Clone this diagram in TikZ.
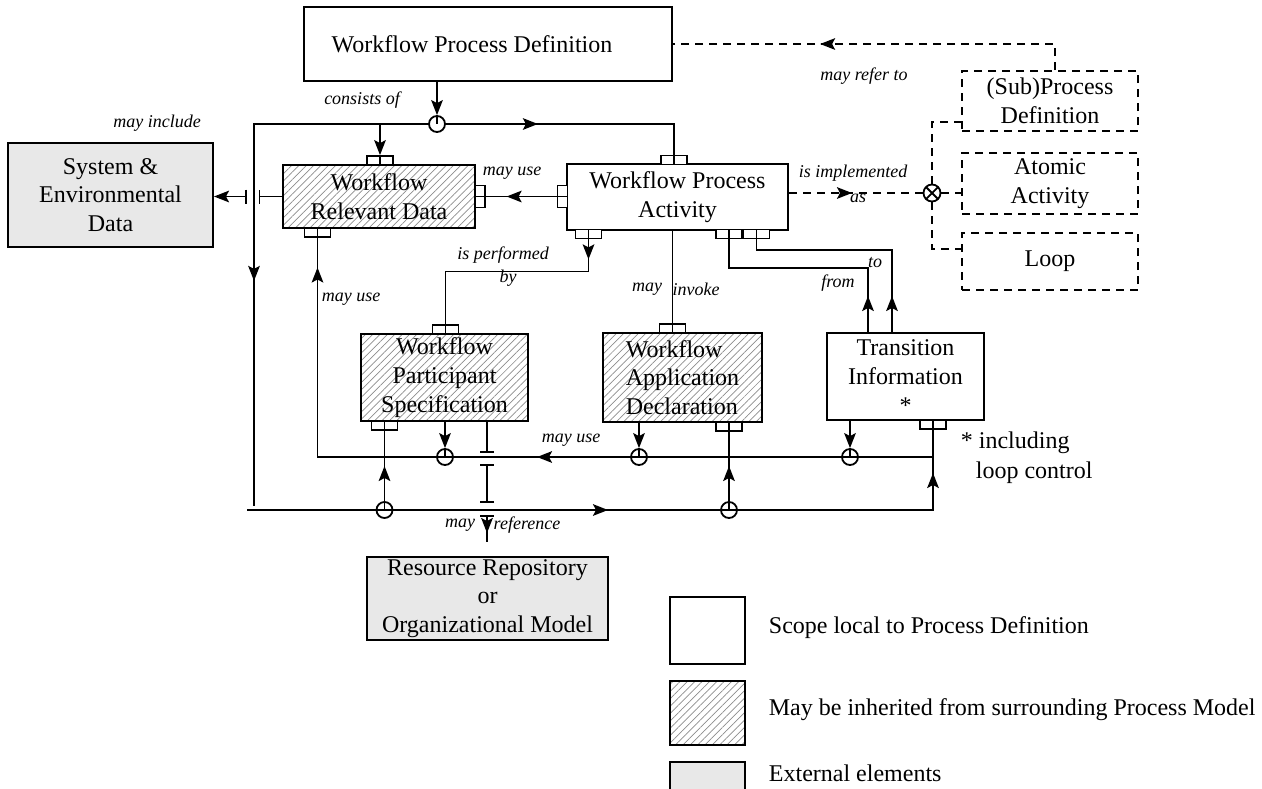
\documentclass[tikz,border=0pt]{standalone}
\usepackage{fontspec}
\setmainfont{Liberation Serif}
\usetikzlibrary{arrows.meta,patterns.meta,decorations.markings,calc}
\begin{document}
\begin{tikzpicture}[x=0.5pt,y=-0.5pt,
  line width=0.9pt,
  >={Stealth[length=7.5pt,width=5.8pt,inset=1.5pt]},
  base/.style={draw, line width=1pt, inner sep=0pt, font=\fontsize{12}{14.4}\selectfont},
  sz/.style 2 args={minimum width=#1, minimum height=#2},
  ml/.style={align=center},
  plainbox/.style={base, fill=white},
  hatchbox/.style={base, pattern={Lines[angle=45,distance=2.6pt,line width=0.35pt]}, pattern color=black!45},
  greybox/.style={base, fill=black!9},
  dashbox/.style={base, dash pattern=on 4pt off 3pt, line width=0.9pt},
  vport/.style={draw, line width=0.9pt, fill=white, minimum width=13pt, minimum height=4.5pt, inner sep=0pt,
    path picture={\draw[line width=0.9pt] (path picture bounding box.north) -- (path picture bounding box.south);}},
  hport/.style={draw, line width=0.9pt, fill=white, minimum width=5pt, minimum height=11pt, inner sep=0pt,
    path picture={\draw[line width=0.9pt] (path picture bounding box.west) -- (path picture bounding box.east);}},
  jct/.style={circle, draw, line width=0.9pt, minimum size=8pt, inner sep=0pt},
  oxs/.style={circle, draw, line width=0.9pt, fill=white, minimum size=8.5pt, inner sep=0pt,
    path picture={\draw (path picture bounding box.north west) -- (path picture bounding box.south east)
      (path picture bounding box.north east) -- (path picture bounding box.south west);}},
  lbl/.style={inner sep=0pt, font=\fontsize{9}{10.8}\selectfont\itshape},
  txt/.style={inner sep=0pt, font=\fontsize{12}{14.4}\selectfont},
  dconn/.style={dash pattern=on 4pt off 3pt},
  midarr/.style={postaction={decorate}, decoration={markings, mark=at position #1 with {\arrow{>}}}},
  arrtwo/.style 2 args={postaction={decorate}, decoration={markings,
    mark=at position #1 with {\arrow{>}}, mark=at position #2 with {\arrow{>}}}},
  tbar/.style={-{Bar[width=7pt]}},
]
\useasboundingbox (0,0) rectangle (1262,788);

% ---------- main boxes ----------
\node[plainbox, sz={184pt}{37pt}] (wpd) at (488,44) {Workflow Process Definition\hspace*{16pt}};
\node[greybox, ml, sz={102.5pt}{52pt}] (sys) at (110.5,195) {System \&\\Environmental\\Data};
\node[hatchbox, ml, sz={96pt}{31.5pt}] (wrd) at (379,196.5) {Workflow\\Relevant Data};
\node[plainbox, ml, sz={110.5pt}{33pt}] (wpa) at (677.5,197) {Workflow Process\\Activity};
\node[hatchbox, ml, sz={83.5pt}{43.5pt}] (part) at (444.5,377.5) {Workflow\\Participant\\Specification};
\node[hatchbox, align=left, sz={79.5pt}{44.5pt}] (app) at (682.5,377.5) {Workflow\\Application\\Declaration};
\node[plainbox, ml, sz={78.5pt}{43.5pt}] (trans) at (905.5,376.5) {Transition\\Information\\*};
\node[greybox, ml, sz={120.5pt}{41.5pt}] (res) at (487.5,598.5) {Resource Repository\\or\\Organizational Model};
\node[dashbox, ml, sz={88pt}{30pt}] (sub) at (1050,101) {(Sub)Process\\Definition};
\node[dashbox, ml, sz={88pt}{30.5pt}] (atom) at (1050,183.5) {Atomic\\Activity};
\node[dashbox, sz={88pt}{28.5pt}] (loop) at (1050,261.5) {Loop};

% ---------- ports ----------
\node[vport] (wrdT) at (380,160.5) {};
\node[vport] (wrdB) at (317.5,232.5) {};
\node[hport] (wrdR) at (480,196.5) {};
\node[hport] (wpaL) at (562.5,196.5) {};
\node[vport] (wpaT) at (674,160) {};
\node[vport] (wpaB1) at (588.5,234) {};
\node[vport] (wpaB2) at (729,234) {};
\node[vport] (wpaB3) at (756.5,234) {};
\node[vport] (partT) at (445.5,329.5) {};
\node[vport] (partB) at (384.5,425.5) {};
\node[vport] (appT) at (672.5,328.5) {};
\node[vport] (appBR) at (729,426.5) {};
\node[vport] (transBR) at (933,424.5) {};

% ---------- junctions ----------
\node[jct] (c1) at (437,124) {};
\node[jct] (c2) at (445,457) {};
\node[jct] (c3) at (639,457) {};
\node[jct] (c4) at (850,457) {};
\node[jct] (c5) at (384.5,510) {};
\node[jct] (c6) at (729,510) {};
\node[oxs] (ox) at (932,193) {};

\coordinate (lvEnd) at (254,506);
\coordinate (lbL) at (247,510);
\coordinate (ubL) at (wrdB |- c2);
\coordinate (ubR) at (transBR |- c2);
\coordinate (lbR) at (transBR |- c5);
\coordinate (gR) at ($(wrd.west)+(-24,0)$);
\coordinate (gL) at ($(wrd.west)+(-36,0)$);
\coordinate (rr0) at (487,421);
\coordinate (rr1) at (487,453);
\coordinate (rr2) at (487,464);
\coordinate (rr3) at (487,503);
\coordinate (rr4) at (487,515);
\coordinate (rr5) at (487,542);

% ---------- connectors ----------
\draw[->] (c1 |- wpd.south) -- (c1.north);
\draw (c1.north) -- (c1.center);
\draw[midarr=165.5pt] (c1.west) -| (lvEnd);
\draw[midarr=46pt] (c1.east) -| (wpaT.north);
\draw[->] (wrdT.north |- c1) -- (wrdT.north);

\draw[tbar] (wrd.west) -- (gR);
\draw[{Bar[width=7pt]}->] (gL) -- (gL -| sys.east);

\draw[midarr=25pt] (wpaL.west) -- (wrdR.east);
\draw[midarr=10pt] (wpaB1.south) -- ++(0,32) -| (partT.north);
\draw (appT.north |- wpa.south) -- (appT.north);
\draw[midarr=18pt] ([xshift=21pt]trans.north west) -- ++(0,-64) -| (wpaB2.south);
\draw[midarr=18pt] ([xshift=33pt]trans.north west) -- ++(0,-82) -| (wpaB3.south);

\draw[->] (c2 |- part.south) -- (c2.north);
\draw (c2.north) -- (c2.center);
\draw[midarr=22pt] (c5.center) -- (partB.south);
\draw[->] (c3 |- app.south) -- (c3.north);
\draw (c3.north) -- (c3.center);
\draw[midarr=22pt] (c6.center) -- (appBR.south);
\draw[->] (c4 |- trans.south) -- (c4.north);
\draw (c4.north) -- (c4.center);

\draw[arrtwo={180.5pt}{361.5pt}] (lbL) -- (lbR) -- (transBR.south);
\draw[arrtwo={198pt}{402.5pt}] (ubR) -- (ubL) -- (wrdB.south);

\draw[tbar] (rr0) -- (rr1);
\draw[{Bar[width=7pt]}-{Bar[width=7pt]}] (rr2) -- (rr3);
\draw[{Bar[width=7pt]}-, midarr=9pt] (rr4) -- (rr5);

% dashed
\draw[dconn, midarr=31.5pt] (ox.west -| wpa.east) -- (ox.west);
\draw[dconn] (ox.north) |- ([yshift=5pt]sub.south west);
\draw[dconn] (ox.east) -- (ox.east -| atom.west);
\draw[dconn] (ox.south) |- ([yshift=-8.5pt]loop.north west);
\draw[dconn, midarr=130.5pt] ([xshift=2.5pt]sub.north) |- (wpd.east);

% ---------- labels ----------
\node[lbl] (lconsists) at (362,100) {consists of};
\node[lbl] (linclude) at (157,123) {may include};
\node[lbl] (lrefer) at (864,76) {may refer to};
\node[lbl] (luse1) at (512,173) {may use};
\node[lbl] (limpl) at (853,173) {is implemented};
\node[lbl] (las) at (858,198) {as};
\node[lbl] (lperf) at (503,255) {is performed};
\node[lbl] (lby) at (508,278) {by};
\node[lbl] (lmay1) at (647,289) {may};
\node[lbl] (linvoke) at (696,289) {invoke};
\node[lbl] (lto) at (875,263) {to};
\node[lbl] (lfrom) at (838,283) {from};
\node[lbl] (luse2) at (351,299) {may use};
\node[lbl] (luse3) at (571,440) {may use};
\node[lbl] (lmay2) at (460,525) {may};
\node[lbl] (lref) at (527,525) {reference};

\node[txt, anchor=west] (note1) at (960,443) {* including};
\node[txt, anchor=west] (note2) at (975,473) {loop control};

% ---------- legend ----------
\node[plainbox, sz={37.5pt}{33.5pt}] (lg1) at (707.5,630.5) {};
\node[hatchbox, sz={37.5pt}{32pt}] (lg2) at (707.5,713) {};
\node[greybox, sz={37.5pt}{24pt}] (lg3) at (707.5,786) {};
\node[txt, anchor=west] (lt1) at (768,628) {Scope local to Process Definition};
\node[txt, anchor=west] (lt2) at (768,710) {May be inherited from surrounding Process Model};
\node[txt, anchor=west] (lt3) at (768,773) {External elements};
\end{tikzpicture}
\end{document}
